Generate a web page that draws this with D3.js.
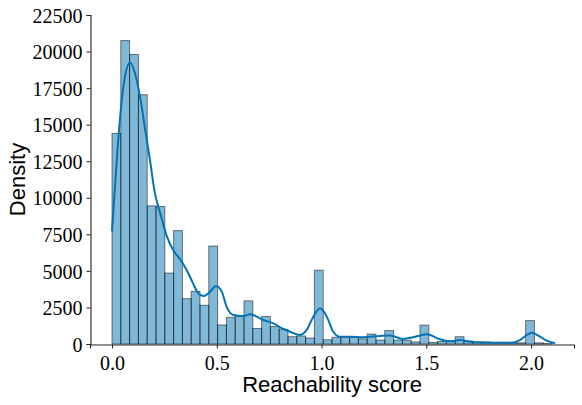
<!DOCTYPE html>
<html>
<head>
<meta charset="utf-8">
<script src="https://cdn.jsdelivr.net/npm/d3@7"></script>
<style>
  body { margin: 0; background: #fff; }
  .tick text { font-family: "Liberation Serif", serif; font-size: 20px; fill: #000; }
  .axis-label { font-family: "Liberation Sans", Arial, sans-serif; font-size: 22px; fill: #000; }
</style>
</head>
<body>
<div id="chart"></div>
<script>
// histogram bins (left edge, width 0.042) and bar heights
var binStarts = [0, 0.042, 0.084, 0.126, 0.168, 0.21, 0.252, 0.294, 0.336, 0.378,
  0.42, 0.462, 0.504, 0.546, 0.588, 0.63, 0.672, 0.714, 0.756, 0.798,
  0.84, 0.882, 0.924, 0.966, 1.008, 1.05, 1.092, 1.134, 1.176, 1.218,
  1.26, 1.302, 1.344, 1.386, 1.428, 1.47, 1.512, 1.554, 1.596, 1.638,
  1.68, 1.722, 1.764, 1.806, 1.848, 1.89, 1.932, 1.974, 2.016, 2.058];
var binWidth = 0.042;
var counts = [14400, 20750, 19800, 17050, 9450, 9400, 4850, 7750, 3100, 3600,
  2650, 6700, 1300, 1820, 1880, 2950, 1060, 1880, 1190, 1000,
  500, 550, 410, 5050, 290, 460, 460, 460, 350, 680,
  270, 920, 270, 260, 140, 1290, 110, 170, 200, 500,
  200, 140, 140, 110, 110, 80, 80, 1600, 80, 40];

// kde curve
var kdeX = [0.000, 0.014, 0.030, 0.046, 0.062, 0.086, 0.110, 0.134, 0.158, 0.181,
  0.205, 0.229, 0.261, 0.293, 0.325, 0.355, 0.385, 0.410, 0.436, 0.468,
  0.496, 0.524, 0.547, 0.579, 0.627, 0.659, 0.691, 0.722, 0.770, 0.818,
  0.850, 0.897, 0.929, 0.961, 0.993, 1.025, 1.056, 1.088, 1.136, 1.198,
  1.279, 1.327, 1.389, 1.437, 1.502, 1.566, 1.613, 1.661, 1.709, 1.789,
  1.900, 1.947, 1.979, 2.003, 2.043, 2.075, 2.115];
var kdeY = [7700, 10700, 14000, 16600, 18300, 19250, 18500, 16900, 14700, 12600,
  10300, 9000, 7400, 6400, 5800, 5100, 4200, 3500, 3280, 3580,
  3970, 3580, 2550, 1980, 1915, 2030, 1870, 1640, 1415, 1025,
  840, 615, 960, 1870, 2440, 1870, 840, 500, 500, 460,
  550, 580, 350, 460, 660, 320, 180, 270, 160, 90,
  90, 270, 615, 770, 500, 225, 50];

var xTicks = [0, 0.5, 1.0, 1.5, 2.0];
var yTicks = [0, 2500, 5000, 7500, 10000, 12500, 15000, 17500, 20000, 22500];

var W = 582, H = 405;
var color = "#0173b2";

var svg = d3.select("#chart").append("svg")
    .attr("width", W)
    .attr("height", H);

var x = d3.scaleLinear()
    .domain([-0.105, 2.205])
    .range([90, 574]);

var y = d3.scaleLinear()
    .domain([0, 22500])
    .range([344, 15]);

// bars
svg.append("g").selectAll("rect")
  .data(counts).enter()
  .append("rect")
    .attr("x", (d, i) => x(binStarts[i]))
    .attr("y", d => y(d))
    .attr("width", (d, i) => x(binStarts[i] + binWidth) - x(binStarts[i]))
    .attr("height", d => y(0) - y(d))
    .attr("fill", color)
    .attr("fill-opacity", 0.5)
    .attr("stroke", "#000")
    .attr("stroke-opacity", 0.5)
    .attr("stroke-width", 1);

// kde line
var kde = kdeX.map((v, i) => ({x: v, y: kdeY[i]}));
var line = d3.line()
    .x(d => x(d.x))
    .y(d => y(d.y))
    .curve(d3.curveMonotoneX);

svg.append("path")
  .attr("d", line(kde))
  .attr("fill", "none")
  .attr("stroke", color)
  .attr("stroke-width", 2);

// axes
var xAxis = svg.append("g")
  .attr("transform", "translate(0,344.5)")
  .call(d3.axisBottom(x).tickValues(xTicks).tickFormat(d3.format(".1f")).tickSizeOuter(0).tickSize(4).tickPadding(5));

var yAxis = svg.append("g")
  .attr("transform", "translate(90.5,0)")
  .call(d3.axisLeft(y).tickValues(yTicks).tickFormat(d => d).tickSizeOuter(0).tickSize(4).tickPadding(4));

svg.selectAll(".domain").attr("stroke", "#222").attr("stroke-width", 1.1);
svg.selectAll(".tick line").attr("stroke", "#222");
xAxis.selectAll(".tick text").attr("dy", "0.8em");
yAxis.selectAll(".tick text").attr("dy", "0.36em");

svg.append("text")
  .attr("class", "axis-label")
  .attr("x", (x(-0.105) + x(2.205)) / 2)
  .attr("y", 392)
  .attr("text-anchor", "middle")
  .text("Reachability score");

svg.append("text")
  .attr("class", "axis-label")
  .attr("transform", "translate(25," + ((y(0) + y(22500)) / 2) + ") rotate(-90)")
  .attr("text-anchor", "middle")
  .text("Density");
</script>
</body>
</html>
